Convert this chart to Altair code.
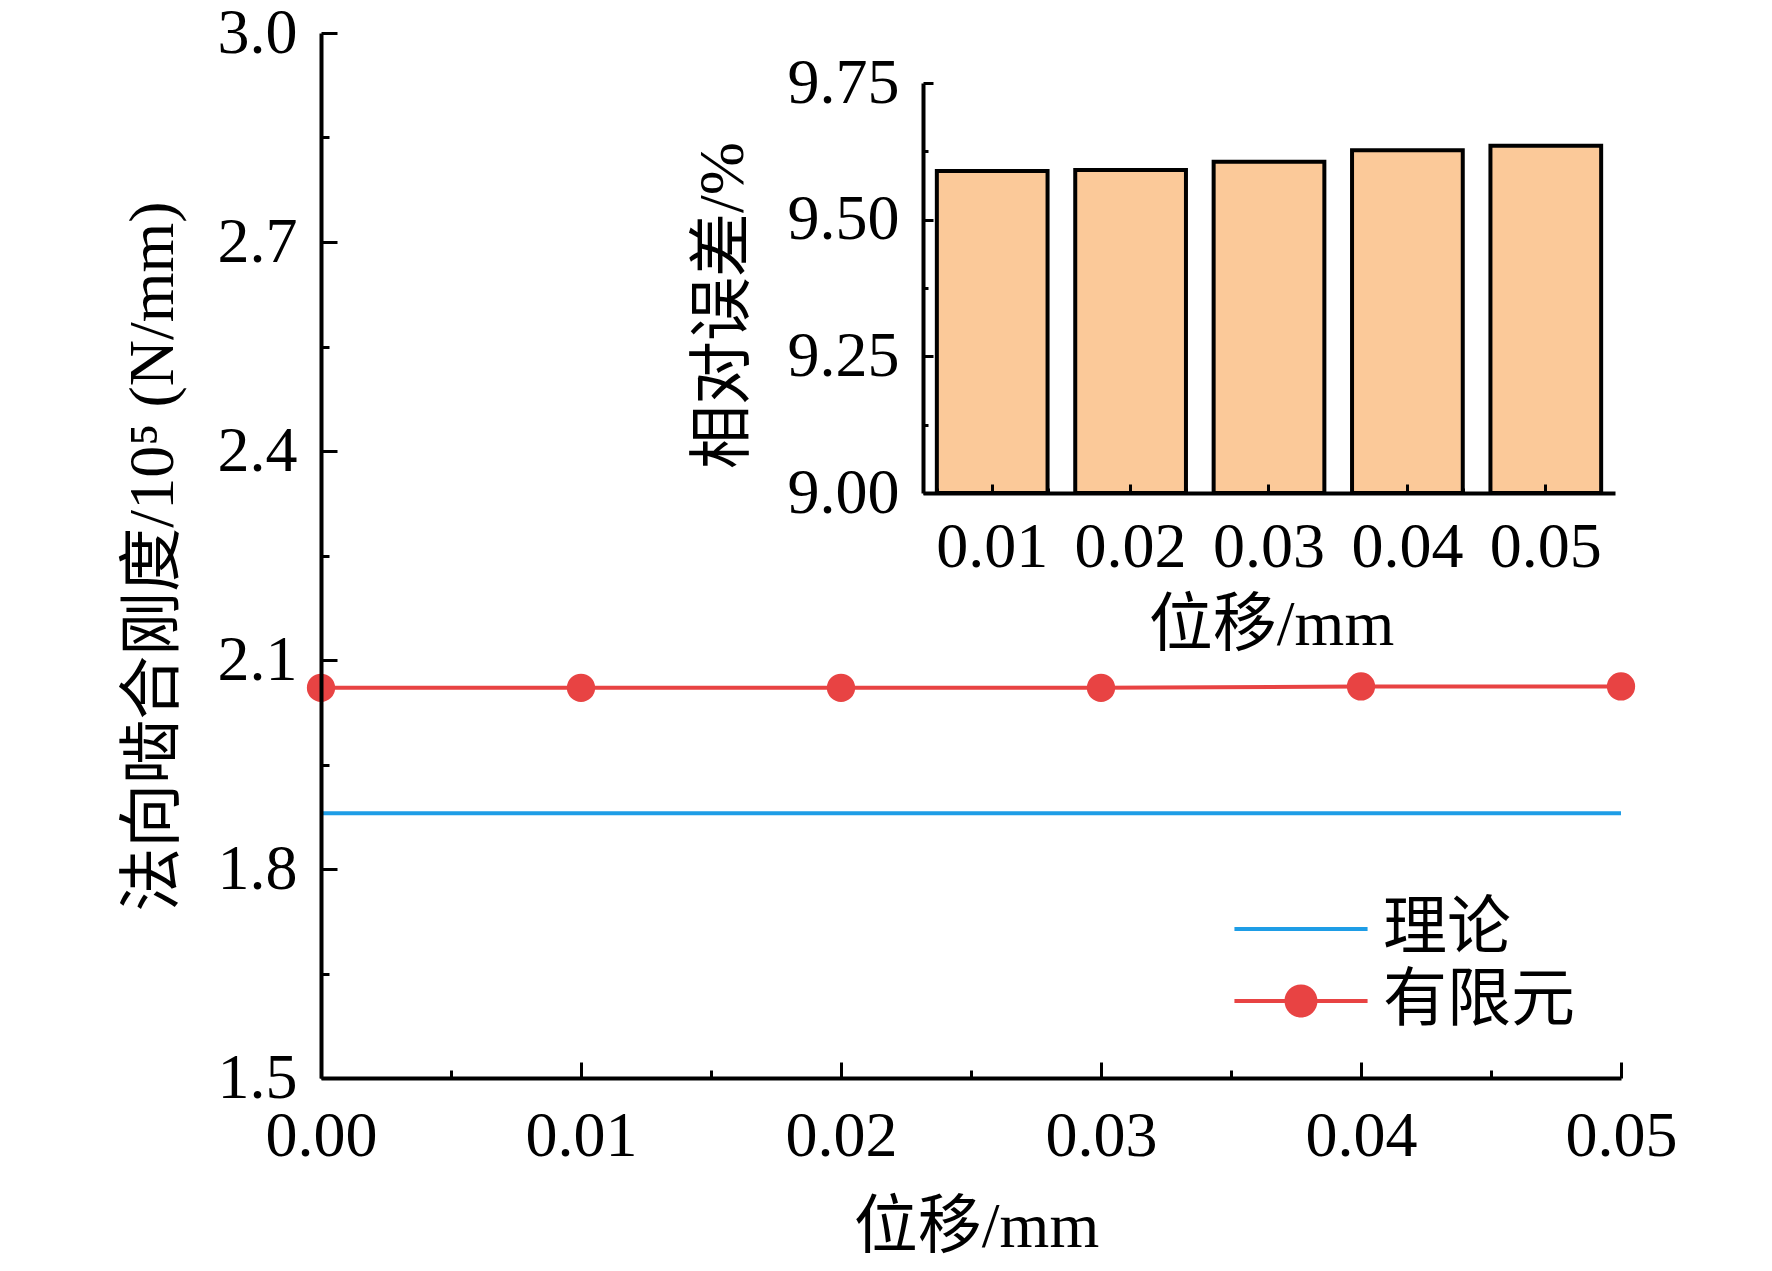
import altair as alt
import pandas as pd

# ---------------- data ----------------
disp = [0.00, 0.01, 0.02, 0.03, 0.04, 0.05]
theory = [1.880, 1.880, 1.880, 1.880, 1.880, 1.880]
fem = [2.060, 2.060, 2.060, 2.060, 2.062, 2.062]
series_names = ["理论", "有限元"]

bar_cats = ["0.01", "0.02", "0.03", "0.04", "0.05"]
rel_err = [9.589, 9.591, 9.606, 9.627, 9.635]

x_major = [0.00, 0.01, 0.02, 0.03, 0.04, 0.05]
x_minor = [0.005, 0.015, 0.025, 0.035, 0.045]
y_major = [1.5, 1.8, 2.1, 2.4, 2.7, 3.0]
y_minor = [1.65, 1.95, 2.25, 2.55, 2.85]
in_y_major = [9.00, 9.25, 9.50, 9.75]
in_y_minor = [9.125, 9.375, 9.625]

# ---------------- layout constants ----------------
W, H = 1300, 1045
IN_X0, IN_X1 = 602, 1294
IN_Y0, IN_Y1 = 460, 50
FONT = "Liberation Serif, Noto Sans CJK SC"
RED = "#E84343"
BLUE = "#1E9DE6"

line_df = pd.DataFrame({
    "x": disp + disp,
    "k": theory + fem,
    "series": [series_names[0]] * len(disp) + [series_names[1]] * len(disp),
})
fe_df = pd.DataFrame({"x": disp, "k": fem, "series": series_names[1]})
bar_df = pd.DataFrame({"cat": bar_cats, "err": rel_err})

xs_main = alt.Scale(domain=[0, 0.05], nice=False, zero=False)
ys_main = alt.Scale(domain=[1.5, 3.0], nice=False, zero=False)
xs_in = alt.Scale(range=[IN_X0, IN_X1], paddingInner=0.2, paddingOuter=0.1)
ys_in = alt.Scale(domain=[9.0, 9.75], range=[IN_Y0, IN_Y1], nice=False, zero=False)

color_scale = alt.Scale(domain=series_names, range=[BLUE, RED])

# legend glyphs (unit box scaled by sqrt(size)/2 = 32 px)
line_path = "M-2.08,-0.0625L2.08,-0.0625L2.08,0.0625L-2.08,0.0625Z"
fe_path = ("M-2.08,-0.0625L2.08,-0.0625L2.08,0.0625L-2.08,0.0625Z"
           "M-0.516,0A0.516,0.516,0,1,1,0.516,0A0.516,0.516,0,1,1,-0.516,0Z")
shape_scale = alt.Scale(domain=series_names, range=[line_path, fe_path])

legend = alt.Legend(
    orient="none", legendX=948, legendY=864, title=None,
    labelFont=FONT, labelFontSize=64, labelColor="black", labelLimit=500,
    symbolSize=4096, symbolStrokeWidth=0, symbolOpacity=1,
    labelOffset=50, rowPadding=8,
)

# ---------------- main chart ----------------
main_x = alt.X("x:Q", scale=xs_main, axis=alt.Axis(
    values=x_major, format=".2f", ticks=False, tickSize=0, labelPadding=26,
    title="位移/mm", titleX=655, titleY=149, titleBaseline="middle", titleAlign="center",
    zindex=1))
main_y = alt.Y("k:Q", scale=ys_main, axis=alt.Axis(
    values=y_major, format=".1f", ticks=False, tickSize=0, labelPadding=24,
    title="法向啮合刚度/10⁵ (N/mm)", titleX=-168, titleY=523, titleBaseline="middle",
    titleAlign="center", zindex=1))

lines = alt.Chart(line_df).mark_line(strokeWidth=4).encode(
    x=main_x, y=main_y,
    color=alt.Color("series:N", scale=color_scale, legend=legend),
)
points = alt.Chart(fe_df).mark_point(filled=True, size=800, opacity=1).encode(
    x=alt.X("x:Q"), y=alt.Y("k:Q"),
    color=alt.Color("series:N", scale=color_scale, legend=legend),
)
# legend-only layer (no rows drawn; legend comes from the scale domains)
legend_layer = alt.Chart(line_df).transform_filter("datum.x < 0").mark_point(
    filled=True, size=4096, opacity=1, strokeWidth=0
).encode(
    x=alt.X("x:Q"), y=alt.Y("k:Q"),
    color=alt.Color("series:N", scale=color_scale, legend=legend),
    shape=alt.Shape("series:N", scale=shape_scale, legend=legend),
)
main_group = alt.layer(lines, points, legend_layer)


def tick_layer(xvals, yvals, size):
    return alt.Chart(line_df).mark_point(opacity=0).encode(
        x=alt.X("x:Q", scale=xs_main, axis=alt.Axis(
            orient="top", offset=-H, values=xvals, tickSize=size, tickWidth=3,
            labels=False, domain=False, title=None, zindex=1)),
        y=alt.Y("k:Q", scale=ys_main, axis=alt.Axis(
            orient="right", offset=-W, values=yvals, tickSize=size, tickWidth=3,
            labels=False, domain=False, title=None, zindex=1)),
    )


major_ticks = tick_layer(x_major, y_major, 16)
minor_ticks = tick_layer(x_minor, y_minor, 8)

# ---------------- inset ----------------
bars = alt.Chart(bar_df).mark_bar(
    fill="#FBC999", stroke="black", strokeWidth=4
).encode(
    x=alt.X("cat:O", sort=bar_cats, scale=xs_in, axis=alt.Axis(
        orient="bottom", offset=IN_Y0 - H, ticks=False, tickSize=0, labelAngle=0,
        labelPadding=22, title="位移/mm", titleX=950, titleY=132,
        titleBaseline="middle", titleAlign="center", zindex=1)),
    y=alt.Y("err:Q", scale=ys_in, axis=alt.Axis(
        orient="left", offset=-IN_X0, values=in_y_major, format=".2f", ticks=False,
        tickSize=0, labelPadding=24, title="相对误差/%", titleX=-200, titleY=272,
        titleBaseline="middle", titleAlign="center", zindex=1)),
    y2=alt.datum(9.0),
)


def inset_tick_layer(band, yvals, xsize, ysize):
    return alt.Chart(bar_df).mark_point(opacity=0).encode(
        x=alt.X("cat:O", sort=bar_cats, scale=xs_in, axis=alt.Axis(
            orient="top", offset=-IN_Y0, tickBand=band, tickSize=xsize, tickWidth=3,
            labels=False, domain=False, title=None, zindex=2)),
        y=alt.Y("err:Q", scale=ys_in, axis=alt.Axis(
            orient="right", offset=IN_X0 - W, values=yvals, tickSize=ysize, tickWidth=3,
            labels=False, domain=False, title=None, zindex=2)),
    )


in_major = inset_tick_layer("center", in_y_major, 9, 10)
in_minor = inset_tick_layer("extent", in_y_minor, 5, 5)

chart = alt.layer(
    main_group, major_ticks, minor_ticks, bars, in_major, in_minor
).resolve_scale(
    x="independent", y="independent"
).properties(
    width=W, height=H,
    autosize=alt.AutoSizeParams(type="none"),
    padding={"left": 313, "top": 25, "right": 100, "bottom": 185},
).configure_view(
    stroke=None
).configure_axis(
    labelFont=FONT, titleFont=FONT, labelFontSize=64, titleFontSize=64,
    titleFontWeight="normal", labelColor="black", titleColor="black",
    domainColor="black", tickColor="black", domainWidth=4, grid=False,
    labelFlush=False, labelOverlap=False, labelBound=False,
)

chart.save("out.html", embed_options={"renderer": "svg", "actions": False})
